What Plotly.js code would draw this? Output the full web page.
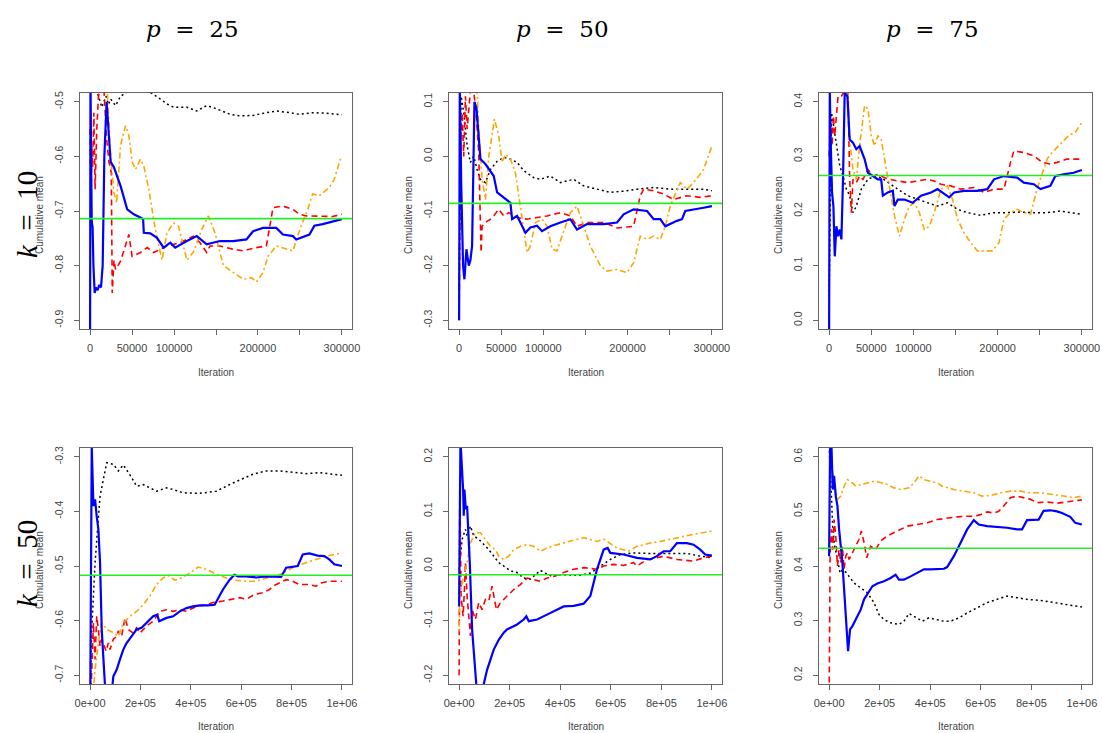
<!DOCTYPE html>
<html>
<head>
<meta charset="utf-8">
<script src="https://cdn.plot.ly/plotly-3.0.1.min.js"></script>
<style>html,body{margin:0;padding:0;background:#fff;}#chart{width:1102px;height:733px;}</style>
</head>
<body>
<div id="chart"></div>
<script>
// ---------- tick labels ----------
const xTickValsA = [0, 50000, 100000, 150000, 200000, 250000, 300000];
const xTickTextA = ["0", "50000", "100000", "", "200000", "", "300000"];
const xTickValsB = [0, 200000, 400000, 600000, 800000, 1000000];
const xTickTextB = ["0e+00", "2e+05", "4e+05", "6e+05", "8e+05", "1e+06"];

const yTicks1 = [-0.9, -0.8, -0.7, -0.6, -0.5];
const yText1 = ["-0.9", "-0.8", "-0.7", "-0.6", "-0.5"];
const yTicks2 = [-0.3, -0.2, -0.1, 0.0, 0.1];
const yText2 = ["-0.3", "-0.2", "-0.1", "0.0", "0.1"];
const yTicks3 = [0.0, 0.1, 0.2, 0.3, 0.4];
const yText3 = ["0.0", "0.1", "0.2", "0.3", "0.4"];
const yTicks4 = [-0.7, -0.6, -0.5, -0.4, -0.3];
const yText4 = ["-0.7", "-0.6", "-0.5", "-0.4", "-0.3"];
const yTicks5 = [-0.2, -0.1, 0.0, 0.1, 0.2];
const yText5 = ["-0.2", "-0.1", "0.0", "0.1", "0.2"];
const yTicks6 = [0.2, 0.3, 0.4, 0.5, 0.6];
const yText6 = ["0.2", "0.3", "0.4", "0.5", "0.6"];

const colTitles = ["25", "50", "75"];
const rowTitles = ["10", "50"];
const truthValues = [-0.714, -0.086, 0.265, -0.517, -0.016, 0.4326];

// ---------- panel 1: k=10, p=25 ----------
const k10p25_black_x = [0, 3000, 8000, 14000, 19000, 22000, 24500, 30400, 36300, 44200, 52100, 71800, 83700, 91600, 99500, 115300, 127100, 138900, 150800, 166600, 178400, 194200, 210000, 221800, 237600, 249400, 265200, 281000, 300000];
const k10p25_black_y = [-0.35, -0.45, -0.48, -0.51, -0.49, -0.505, -0.495, -0.507, -0.49, -0.482, -0.482, -0.483, -0.495, -0.504, -0.51, -0.51, -0.517, -0.507, -0.513, -0.523, -0.526, -0.525, -0.52, -0.517, -0.52, -0.523, -0.52, -0.521, -0.524];
const k10p25_red_x = [0, 1000, 2000, 3000, 4500, 6000, 8000, 10000, 13000, 16600, 19700, 22500, 25300, 26400, 28400, 30400, 36300, 46200, 50100, 60000, 67900, 75800, 83700, 91600, 107400, 123100, 131000, 138900, 142900, 154700, 170500, 182400, 198100, 210000, 217900, 229700, 241600, 249400, 257300, 273100, 288900, 300000];
const k10p25_red_y = [-0.55, -0.70, -0.58, -0.62, -0.52, -0.66, -0.55, -0.49, -0.47, -0.48, -0.568, -0.61, -0.63, -0.85, -0.79, -0.807, -0.792, -0.743, -0.783, -0.776, -0.767, -0.776, -0.77, -0.764, -0.758, -0.746, -0.758, -0.776, -0.764, -0.764, -0.77, -0.773, -0.767, -0.764, -0.694, -0.691, -0.697, -0.706, -0.709, -0.709, -0.71, -0.706];
const k10p25_orange_x = [0, 15000, 20500, 24500, 28400, 31600, 36300, 42200, 46200, 50100, 54100, 60000, 63900, 69900, 77800, 85600, 91600, 99500, 105400, 115300, 123100, 133000, 140900, 148800, 158700, 170500, 182400, 192200, 198100, 206000, 212000, 221800, 233700, 241600, 251400, 259300, 265200, 273100, 285000, 290900, 298800];
const k10p25_orange_y = [-0.30, -0.40, -0.48, -0.60, -0.666, -0.685, -0.58, -0.544, -0.562, -0.61, -0.624, -0.605, -0.617, -0.66, -0.734, -0.79, -0.74, -0.722, -0.728, -0.79, -0.775, -0.734, -0.709, -0.74, -0.80, -0.813, -0.825, -0.822, -0.83, -0.813, -0.783, -0.764, -0.77, -0.773, -0.727, -0.697, -0.669, -0.672, -0.657, -0.642, -0.602];
const k10p25_blue_x = [0, 500, 1200, 2000, 3000, 4000, 5500, 7000, 9000, 11000, 13000, 15000, 17000, 19700, 24500, 28400, 32400, 36300, 44200, 52100, 60000, 63200, 64000, 71800, 79700, 87600, 95500, 101400, 115300, 127100, 138900, 154700, 170500, 186300, 194200, 206000, 221800, 229700, 241600, 245500, 261300, 267200, 277100, 288900, 300000];
const k10p25_blue_y = [-0.95, -0.45, -0.6, -0.72, -0.73, -0.80, -0.85, -0.84, -0.845, -0.835, -0.84, -0.80, -0.6, -0.50, -0.61, -0.62, -0.636, -0.654, -0.697, -0.706, -0.712, -0.715, -0.74, -0.741, -0.749, -0.767, -0.758, -0.767, -0.755, -0.746, -0.761, -0.755, -0.755, -0.752, -0.737, -0.731, -0.731, -0.743, -0.746, -0.752, -0.743, -0.727, -0.724, -0.72, -0.715];

// ---------- panel 2: k=10, p=50 ----------
const k10p50_black_x = [0, 2400, 5500, 9500, 13400, 17400, 21300, 25300, 31200, 37200, 45100, 53000, 60900, 68800, 76700, 88500, 96500, 108300, 120200, 136000, 147800, 163700, 179500, 199200, 211100, 230900, 250600, 270400, 290200, 300000];
const k10p50_black_y = [-0.244, 0.11, 0.08, 0.02, -0.011, 0.0, -0.024, -0.042, -0.048, -0.024, -0.009, -0.002, -0.005, -0.011, -0.026, -0.039, -0.042, -0.036, -0.048, -0.042, -0.054, -0.06, -0.066, -0.063, -0.06, -0.057, -0.06, -0.06, -0.06, -0.063];
const k10p50_red_x = [0, 1600, 3600, 5500, 7500, 9500, 13400, 17400, 20600, 23300, 26100, 27300, 31200, 37200, 41100, 47000, 53000, 58900, 68800, 80600, 92500, 104400, 120200, 132000, 139900, 151800, 171600, 187400, 207100, 215000, 219000, 230900, 242700, 254600, 270400, 286200, 300000];
const k10p50_red_y = [-0.30, 0.02, 0.08, 0.0, 0.11, 0.05, 0.12, 0.12, 0.068, 0.007, -0.176, -0.128, -0.121, -0.115, -0.109, -0.097, -0.109, -0.103, -0.112, -0.115, -0.112, -0.109, -0.103, -0.109, -0.128, -0.121, -0.121, -0.131, -0.128, -0.072, -0.06, -0.063, -0.069, -0.079, -0.072, -0.075, -0.072];
const k10p50_orange_x = [0, 15000, 21300, 23300, 27300, 31200, 35200, 41900, 47000, 51000, 54900, 60900, 66800, 72700, 80600, 84600, 90500, 98400, 104400, 110300, 116200, 122100, 132000, 139900, 147800, 155700, 167600, 175500, 187400, 199200, 207100, 215000, 223000, 230900, 238800, 244700, 250600, 262500, 270400, 278300, 290200, 300000];
const k10p50_orange_y = [0.2, 0.18, 0.12, 0.05, -0.042, -0.079, 0.0, 0.068, 0.038, -0.011, 0.004, -0.005, -0.03, -0.091, -0.176, -0.164, -0.121, -0.115, -0.128, -0.17, -0.173, -0.146, -0.103, -0.091, -0.128, -0.164, -0.2, -0.21, -0.207, -0.213, -0.195, -0.146, -0.152, -0.146, -0.152, -0.128, -0.091, -0.048, -0.06, -0.048, -0.024, 0.019];
const k10p50_blue_x = [0, 800, 2500, 4700, 6300, 8700, 11500, 13400, 15400, 18200, 20600, 25300, 31200, 41100, 45100, 53000, 60900, 62900, 68800, 72700, 78700, 84600, 92500, 98400, 108300, 120200, 132000, 139900, 151800, 171600, 187400, 195300, 207100, 223000, 230900, 238800, 244700, 258500, 264500, 268400, 282200, 290200, 300000];
const k10p50_blue_y = [-0.30, 0.13, -0.05, -0.20, -0.225, -0.17, -0.20, -0.19, -0.164, 0.1, 0.088, -0.005, -0.014, -0.036, -0.066, -0.076, -0.085, -0.115, -0.109, -0.121, -0.14, -0.13, -0.127, -0.137, -0.128, -0.121, -0.115, -0.134, -0.124, -0.124, -0.121, -0.106, -0.097, -0.1, -0.115, -0.115, -0.128, -0.118, -0.115, -0.1, -0.097, -0.094, -0.091];

// ---------- panel 3: k=10, p=75 ----------
const k10p75_black_x = [0, 2800, 4700, 8700, 12600, 16500, 20500, 24400, 28300, 32300, 38200, 46100, 53900, 61800, 69700, 81500, 93300, 105100, 116900, 128700, 140500, 152400, 164200, 179900, 195700, 211400, 227200, 242900, 258700, 274400, 290200, 300000];
const k10p75_black_y = [0.044, 0.38, 0.362, 0.319, 0.283, 0.264, 0.24, 0.228, 0.197, 0.209, 0.24, 0.258, 0.264, 0.261, 0.252, 0.24, 0.228, 0.221, 0.215, 0.209, 0.215, 0.203, 0.197, 0.192, 0.197, 0.197, 0.198, 0.197, 0.197, 0.2, 0.197, 0.194];
const k10p75_red_x = [0, 2000, 3500, 5100, 6700, 10600, 14600, 18500, 22400, 24400, 26400, 28300, 32300, 36200, 40200, 46100, 52000, 57900, 65700, 71700, 81500, 93300, 105100, 116900, 124800, 132700, 144500, 156300, 172000, 183900, 195700, 207500, 215300, 219300, 231100, 242900, 252800, 262600, 270500, 282300, 298000];
const k10p75_red_y = [0.30, 0.362, 0.319, 0.374, 0.338, 0.41, 0.41, 0.42, 0.42, 0.258, 0.197, 0.258, 0.252, 0.264, 0.258, 0.276, 0.264, 0.267, 0.261, 0.258, 0.255, 0.252, 0.255, 0.258, 0.255, 0.249, 0.246, 0.24, 0.243, 0.234, 0.24, 0.24, 0.289, 0.31, 0.307, 0.301, 0.289, 0.286, 0.289, 0.295, 0.295];
const k10p75_orange_x = [0, 15000, 22400, 24400, 28300, 32300, 36200, 42100, 46100, 50000, 53900, 57900, 61800, 65700, 71700, 77600, 83500, 89400, 95300, 101200, 107100, 113000, 118900, 124800, 132700, 140500, 146500, 152400, 160200, 168100, 176000, 183900, 193700, 201600, 207500, 215300, 223200, 231100, 239000, 246800, 252800, 258700, 264600, 272400, 284300, 292100, 300000];
const k10p75_orange_y = [0.6, 0.5, 0.42, 0.331, 0.276, 0.258, 0.319, 0.393, 0.387, 0.338, 0.319, 0.338, 0.331, 0.295, 0.24, 0.191, 0.154, 0.185, 0.209, 0.215, 0.197, 0.166, 0.172, 0.197, 0.24, 0.246, 0.221, 0.185, 0.16, 0.142, 0.127, 0.127, 0.127, 0.142, 0.185, 0.197, 0.203, 0.197, 0.194, 0.24, 0.27, 0.295, 0.307, 0.319, 0.338, 0.344, 0.362];
const k10p75_blue_x = [0, 800, 2000, 3500, 5100, 6700, 8700, 10600, 12600, 14600, 16500, 18500, 21700, 24400, 28300, 32300, 36200, 42100, 46100, 52000, 57900, 61800, 63800, 69700, 75600, 77600, 81500, 89400, 99200, 109100, 120900, 128700, 136600, 142500, 148400, 160200, 176000, 187800, 195700, 207500, 223200, 231100, 242900, 250800, 262600, 268500, 278300, 290200, 300000];
const k10p75_blue_y = [-0.02, 0.42, 0.319, 0.234, 0.209, 0.117, 0.172, 0.154, 0.166, 0.148, 0.258, 0.417, 0.41, 0.331, 0.325, 0.313, 0.319, 0.295, 0.27, 0.264, 0.258, 0.258, 0.228, 0.234, 0.237, 0.209, 0.221, 0.221, 0.215, 0.228, 0.234, 0.24, 0.231, 0.225, 0.234, 0.237, 0.237, 0.24, 0.258, 0.264, 0.261, 0.252, 0.249, 0.24, 0.246, 0.264, 0.267, 0.27, 0.275];

// ---------- panel 4: k=50, p=25 ----------
const k50p25_black_x = [0, 6600, 19800, 39600, 66000, 92400, 112100, 131900, 164900, 184700, 211100, 263900, 303400, 329800, 369400, 435400, 501300, 567300, 646500, 699200, 752000, 804800, 857500, 910300, 1000000];
const k50p25_black_y = [-0.75, -0.616, -0.494, -0.372, -0.311, -0.314, -0.326, -0.315, -0.338, -0.354, -0.351, -0.363, -0.357, -0.36, -0.366, -0.367, -0.363, -0.348, -0.332, -0.326, -0.326, -0.329, -0.331, -0.329, -0.334];
const k50p25_red_x = [0, 13200, 19800, 26400, 33000, 39600, 46200, 52800, 63300, 72600, 79200, 92400, 105500, 112100, 125300, 138500, 151700, 171500, 184700, 197900, 224300, 250700, 277100, 303400, 329800, 356200, 382600, 422200, 461800, 488100, 527700, 567300, 593700, 620100, 653000, 686000, 712400, 725600, 752000, 778400, 804800, 831100, 870700, 897100, 916900, 949900, 1000000];
const k50p25_red_y = [-0.78, -0.604, -0.671, -0.592, -0.616, -0.647, -0.634, -0.641, -0.656, -0.641, -0.653, -0.634, -0.629, -0.619, -0.629, -0.595, -0.616, -0.623, -0.613, -0.623, -0.61, -0.601, -0.583, -0.58, -0.583, -0.58, -0.583, -0.574, -0.571, -0.567, -0.564, -0.561, -0.558, -0.561, -0.552, -0.549, -0.543, -0.537, -0.531, -0.525, -0.528, -0.534, -0.534, -0.537, -0.531, -0.528, -0.528];
const k50p25_orange_x = [0, 19800, 33000, 46200, 66000, 92400, 112100, 131900, 158300, 184700, 211100, 237500, 263900, 290200, 310000, 336400, 362800, 395800, 428800, 461800, 501300, 540900, 580500, 620100, 659700, 699200, 738800, 778400, 818000, 857500, 897100, 936700, 1000000];
const k50p25_orange_y = [-0.80, -0.69, -0.641, -0.604, -0.616, -0.622, -0.629, -0.604, -0.592, -0.583, -0.571, -0.555, -0.534, -0.522, -0.517, -0.526, -0.522, -0.513, -0.502, -0.506, -0.515, -0.522, -0.526, -0.528, -0.528, -0.522, -0.519, -0.51, -0.5, -0.494, -0.488, -0.482, -0.476];
const k50p25_blue_x = [0, 6600, 13200, 19800, 26400, 33000, 39600, 46200, 59400, 75000, 92400, 105500, 118700, 131900, 145100, 164900, 184700, 204500, 224300, 250700, 266500, 274400, 303400, 329800, 356200, 382600, 409000, 435400, 468300, 494700, 527700, 554100, 573900, 587100, 620100, 659700, 699200, 738800, 758600, 778400, 804800, 824600, 844400, 870700, 903700, 930100, 949900, 969700, 1000000];
const k50p25_blue_y = [-0.80, -0.28, -0.39, -0.378, -0.409, -0.433, -0.494, -0.616, -0.72, -0.78, -0.702, -0.69, -0.671, -0.653, -0.641, -0.629, -0.616, -0.613, -0.604, -0.592, -0.589, -0.601, -0.595, -0.592, -0.583, -0.577, -0.574, -0.572, -0.572, -0.571, -0.543, -0.525, -0.516, -0.519, -0.519, -0.521, -0.519, -0.52, -0.52, -0.503, -0.501, -0.5, -0.479, -0.477, -0.481, -0.482, -0.488, -0.497, -0.5];

// ---------- panel 5: k=50, p=50 ----------
const k50p50_black_x = [0, 11900, 25000, 31600, 44800, 58000, 77700, 97500, 117300, 137000, 156800, 176500, 202900, 229200, 255600, 281900, 308300, 321500, 341200, 367600, 400500, 440000, 479600, 519100, 558600, 598100, 637700, 690400, 743100, 795800, 848500, 901200, 953900, 1000000];
const k50p50_black_y = [-0.006, 0.049, 0.067, 0.055, 0.073, 0.055, 0.049, 0.039, 0.03, 0.018, 0.006, 0.0, -0.009, -0.012, -0.022, -0.024, -0.013, -0.008, -0.013, -0.019, -0.016, -0.017, -0.017, -0.013, 0.0, 0.012, 0.021, 0.024, 0.023, 0.023, 0.024, 0.023, 0.018, 0.015];
const k50p50_red_x = [0, 2600, 7900, 15800, 21100, 25000, 31600, 38200, 44800, 51400, 64600, 77700, 90900, 104100, 117300, 130400, 147600, 163400, 189700, 216100, 242400, 268800, 295100, 321500, 347800, 374200, 413700, 453200, 492700, 545500, 571800, 611300, 650800, 690400, 703500, 743100, 782600, 808900, 861600, 927500, 967000, 1000000];
const k50p50_red_y = [-0.2, 0.152, -0.055, -0.092, -0.043, 0.006, -0.055, -0.092, -0.128, -0.08, -0.098, -0.067, -0.08, -0.061, -0.064, -0.037, -0.08, -0.067, -0.055, -0.043, -0.034, -0.022, -0.025, -0.028, -0.022, -0.019, -0.012, -0.006, -0.003, -0.006, 0.0, 0.003, 0.001, 0.006, 0.0, 0.012, 0.015, 0.018, 0.012, 0.009, 0.015, 0.018];
const k50p50_orange_x = [0, 2600, 11900, 21100, 31600, 44800, 64600, 84300, 104100, 123800, 143600, 156800, 176500, 196300, 216100, 242400, 268800, 295100, 321500, 347800, 387300, 440000, 492700, 545500, 571800, 624500, 670600, 703500, 756200, 795800, 861600, 927500, 1000000];
const k50p50_orange_y = [-0.12, -0.055, -0.031, -0.012, 0.006, 0.042, 0.061, 0.061, 0.049, 0.036, 0.03, 0.018, 0.012, 0.018, 0.03, 0.036, 0.039, 0.036, 0.027, 0.033, 0.039, 0.045, 0.052, 0.045, 0.049, 0.033, 0.027, 0.036, 0.042, 0.045, 0.052, 0.058, 0.064];
const k50p50_blue_x = [0, 5300, 15800, 18400, 21100, 26400, 31600, 42200, 51400, 68500, 84300, 97500, 110700, 123800, 137000, 156800, 176500, 189700, 202900, 229200, 255600, 266100, 275400, 308300, 347800, 387300, 413700, 453200, 492700, 519100, 545500, 571800, 587600, 598100, 650800, 703500, 756200, 782600, 808900, 835300, 861600, 901200, 927500, 953900, 973600, 1000000];
const k50p50_blue_y = [-0.074, 0.23, 0.14, 0.092, 0.14, 0.104, 0.11, 0.006, -0.116, -0.22, -0.26, -0.216, -0.19, -0.171, -0.153, -0.135, -0.122, -0.116, -0.113, -0.107, -0.098, -0.092, -0.101, -0.098, -0.089, -0.08, -0.074, -0.073, -0.069, -0.055, -0.006, 0.03, 0.033, 0.024, 0.021, 0.015, 0.012, 0.018, 0.027, 0.027, 0.042, 0.042, 0.039, 0.03, 0.021, 0.019];

// ---------- panel 6: k=50, p=75 ----------
const k50p75_black_x = [0, 3900, 9200, 14500, 22400, 32900, 43400, 52600, 65800, 78900, 98700, 125000, 151300, 177600, 197400, 217100, 243400, 276300, 296100, 315800, 335500, 368400, 394700, 427600, 453900, 480300, 513200, 546100, 585500, 625000, 664500, 703900, 743400, 782900, 835500, 888200, 927600, 967100, 1000000];
const k50p75_black_y = [0.62, 0.589, 0.528, 0.467, 0.436, 0.412, 0.387, 0.393, 0.389, 0.381, 0.369, 0.36, 0.351, 0.333, 0.311, 0.302, 0.296, 0.293, 0.299, 0.313, 0.308, 0.299, 0.305, 0.302, 0.299, 0.299, 0.305, 0.314, 0.323, 0.333, 0.339, 0.345, 0.342, 0.339, 0.337, 0.333, 0.33, 0.327, 0.325];
const k50p75_red_x = [0, 3900, 9200, 14500, 19700, 26300, 32900, 39500, 46100, 52600, 59200, 65800, 72400, 78900, 92100, 105300, 118400, 127600, 138200, 148700, 164500, 184200, 203900, 230300, 256600, 282900, 309200, 348700, 388200, 427600, 467100, 506600, 546100, 572400, 598700, 625000, 651300, 671100, 690800, 717100, 743400, 769700, 796100, 822400, 861800, 901300, 940800, 967100, 1000000];
const k50p75_red_y = [0.15, 0.418, 0.467, 0.43, 0.485, 0.455, 0.4, 0.43, 0.406, 0.436, 0.394, 0.418, 0.424, 0.412, 0.424, 0.436, 0.449, 0.464, 0.443, 0.415, 0.436, 0.43, 0.446, 0.455, 0.461, 0.467, 0.473, 0.476, 0.479, 0.485, 0.488, 0.49, 0.491, 0.491, 0.494, 0.499, 0.497, 0.5, 0.51, 0.525, 0.528, 0.525, 0.522, 0.516, 0.517, 0.515, 0.517, 0.519, 0.521];
const k50p75_orange_x = [0, 3900, 13200, 22400, 32900, 46100, 59200, 72400, 85500, 105300, 125000, 151300, 177600, 203900, 230300, 256600, 282900, 315800, 335500, 355300, 375000, 401300, 427600, 447400, 467100, 493400, 532900, 572400, 605300, 638200, 677600, 717100, 756600, 796100, 835500, 888200, 927600, 967100, 1000000];
const k50p75_orange_y = [0.66, 0.613, 0.577, 0.546, 0.522, 0.528, 0.546, 0.558, 0.555, 0.546, 0.549, 0.552, 0.555, 0.553, 0.549, 0.543, 0.54, 0.543, 0.552, 0.565, 0.558, 0.555, 0.552, 0.546, 0.543, 0.54, 0.537, 0.534, 0.528, 0.529, 0.534, 0.537, 0.537, 0.534, 0.534, 0.531, 0.528, 0.525, 0.528];
const k50p75_blue_x = [0, 3900, 9200, 14500, 19700, 26300, 32900, 39500, 52600, 65800, 75000, 82900, 92100, 105300, 125000, 138200, 151300, 171100, 190800, 217100, 243400, 263200, 276300, 296100, 322400, 348700, 375000, 401300, 427600, 453900, 467100, 493400, 519700, 546100, 572400, 592100, 625000, 664500, 703900, 743400, 763200, 782900, 809200, 829000, 848700, 875000, 901300, 921100, 953900, 973700, 1000000];
const k50p75_blue_y = [0.418, 0.62, 0.62, 0.54, 0.565, 0.528, 0.51, 0.467, 0.406, 0.308, 0.244, 0.284, 0.29, 0.302, 0.32, 0.339, 0.348, 0.363, 0.368, 0.372, 0.378, 0.384, 0.375, 0.375, 0.381, 0.387, 0.394, 0.394, 0.395, 0.395, 0.398, 0.418, 0.442, 0.467, 0.484, 0.476, 0.473, 0.472, 0.47, 0.467, 0.467, 0.484, 0.484, 0.485, 0.501, 0.502, 0.5, 0.497, 0.49, 0.479, 0.476];

// ---------- assemble ----------
const W = 1102, H = 733;
const fx = p => p / W;
const fy = p => 1 - p / H;

const panels = [
  {series: [[k10p25_black_x, k10p25_black_y], [k10p25_red_x, k10p25_red_y], [k10p25_orange_x, k10p25_orange_y], [k10p25_blue_x, k10p25_blue_y]], yt: yTicks1, ytt: yText1, row: 0, col: 0},
  {series: [[k10p50_black_x, k10p50_black_y], [k10p50_red_x, k10p50_red_y], [k10p50_orange_x, k10p50_orange_y], [k10p50_blue_x, k10p50_blue_y]], yt: yTicks2, ytt: yText2, row: 0, col: 1},
  {series: [[k10p75_black_x, k10p75_black_y], [k10p75_red_x, k10p75_red_y], [k10p75_orange_x, k10p75_orange_y], [k10p75_blue_x, k10p75_blue_y]], yt: yTicks3, ytt: yText3, row: 0, col: 2},
  {series: [[k50p25_black_x, k50p25_black_y], [k50p25_red_x, k50p25_red_y], [k50p25_orange_x, k50p25_orange_y], [k50p25_blue_x, k50p25_blue_y]], yt: yTicks4, ytt: yText4, row: 1, col: 0},
  {series: [[k50p50_black_x, k50p50_black_y], [k50p50_red_x, k50p50_red_y], [k50p50_orange_x, k50p50_orange_y], [k50p50_blue_x, k50p50_blue_y]], yt: yTicks5, ytt: yText5, row: 1, col: 1},
  {series: [[k50p75_black_x, k50p75_black_y], [k50p75_red_x, k50p75_red_y], [k50p75_orange_x, k50p75_orange_y], [k50p75_blue_x, k50p75_blue_y]], yt: yTicks6, ytt: yText6, row: 1, col: 2}
];

const styles = [
  {color: '#000000', dash: '2px,3px', width: 1.5},
  {color: '#FF0000', dash: '6px,4px', width: 1.6},
  {color: '#FFA500', dash: '2px,3px,6px,3px', width: 1.6},
  {color: '#0000FF', dash: 'solid', width: 2.2}
];

const colPx = [[80, 352], [449, 722], [819, 1092]];
const rowPx = [[93, 329], [448, 684]];

const traces = [];
const layout = {
  width: W, height: H,
  margin: {l: 0, r: 0, t: 0, b: 0},
  paper_bgcolor: '#ffffff', plot_bgcolor: '#ffffff',
  showlegend: false,
  font: {family: 'Liberation Sans, Arial, sans-serif', color: '#444'},
  annotations: [], shapes: []
};

panels.forEach((p, i) => {
  const n = i + 1;
  const xk = 'x' + (n === 1 ? '' : n), yk = 'y' + (n === 1 ? '' : n);
  const xa = 'xaxis' + (n === 1 ? '' : n), ya = 'yaxis' + (n === 1 ? '' : n);
  p.series.forEach((s, j) => {
    traces.push({
      type: 'scatter', mode: 'lines', x: s[0], y: s[1],
      xaxis: xk, yaxis: yk,
      line: {color: styles[j].color, dash: styles[j].dash, width: styles[j].width},
      hoverinfo: 'skip'
    });
  });
  const top = p.row === 0;
  const yMin = p.yt[0], yMax = p.yt[p.yt.length - 1];
  const ext = (yMax - yMin) * 0.04;
  layout[xa] = {
    domain: [fx(colPx[p.col][0]), fx(colPx[p.col][1])],
    anchor: yk,
    range: top ? [-12000, 312000] : [-40000, 1040000],
    tickvals: top ? xTickValsA : xTickValsB,
    ticktext: top ? xTickTextA : xTickTextB,
    tickmode: 'array',
    showgrid: false, zeroline: false,
    showline: true, mirror: true, linecolor: '#666', linewidth: 1,
    ticks: 'outside', ticklen: 5, tickcolor: '#666',
    tickfont: {size: 11, color: '#444'},
    ticklabelstandoff: 4
  };
  layout[ya] = {
    domain: [fy(rowPx[p.row][1]), fy(rowPx[p.row][0])],
    anchor: xk,
    range: [yMin - ext, yMax + ext],
    tickvals: p.yt, ticktext: p.ytt, tickmode: 'array',
    tickangle: -90,
    showgrid: false, zeroline: false,
    showline: true, mirror: true, linecolor: '#666', linewidth: 1,
    ticks: 'outside', ticklen: 5, tickcolor: '#666',
    tickfont: {size: 10.5, color: '#444'},
    ticklabelstandoff: 7
  };
  layout.shapes.push({
    type: 'line', xref: xk + ' domain', yref: yk,
    x0: 0, x1: 1, y0: truthValues[i], y1: truthValues[i],
    line: {color: '#22EE22', width: 1.6}, layer: 'above'
  });
  const cx = (colPx[p.col][0] + colPx[p.col][1]) / 2;
  const cy = (rowPx[p.row][0] + rowPx[p.row][1]) / 2;
  layout.annotations.push({
    text: 'Iteration', xref: 'paper', yref: 'paper',
    x: fx(cx), y: fy(top ? 372 : 726), xanchor: 'center', yanchor: 'middle',
    showarrow: false, font: {size: 10, color: '#444'}
  });
  layout.annotations.push({
    text: 'Cumulative mean', xref: 'paper', yref: 'paper', textangle: -90,
    x: fx(colPx[p.col][0] - 41), y: fy(cy + 4), xanchor: 'center', yanchor: 'middle',
    showarrow: false, font: {size: 10, color: '#444'}
  });
});

const titleX = [192, 563, 932];
colTitles.forEach((t, i) => {
  layout.annotations.push({
    text: '<i>p</i>&nbsp; =&nbsp; ' + t, xref: 'paper', yref: 'paper',
    x: fx(titleX[i]), y: fy(29), xanchor: 'center', yanchor: 'middle',
    showarrow: false, font: {family: 'DejaVu Serif, serif', size: 23, color: '#000'}
  });
});
const rowY = [215, 564];
rowTitles.forEach((t, i) => {
  layout.annotations.push({
    text: '<i>k</i>&nbsp; =&nbsp; ' + t, xref: 'paper', yref: 'paper', textangle: -90,
    x: fx(27), y: fy(rowY[i]), xanchor: 'center', yanchor: 'middle',
    showarrow: false, font: {family: 'Liberation Serif, Times New Roman, serif', size: 29, color: '#000'}
  });
});

Plotly.newPlot('chart', traces, layout, {displayModeBar: false, staticPlot: true});
</script>
</body>
</html>
